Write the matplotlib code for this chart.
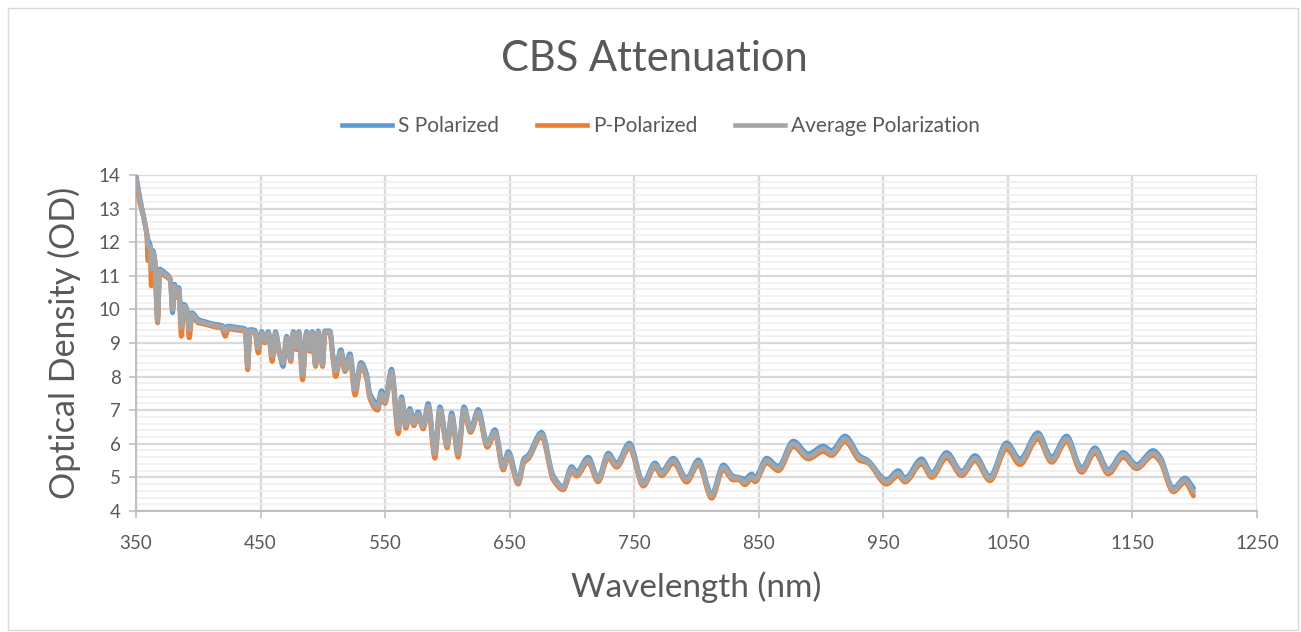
import matplotlib.pyplot as plt
import numpy as np
from matplotlib.path import Path
from matplotlib.patches import PathPatch, Rectangle
from matplotlib.lines import Line2D
from matplotlib.ticker import MultipleLocator

plt.rcParams['font.family'] = ['Lato', 'DejaVu Sans']

# readings from the chart: wavelength (nm), S, P and average optical density
wavelength = [350, 353, 358.8, 359.6, 361.5, 362.3, 363.5, 365, 367.4, 369, 373, 377.6,
              379.4, 381, 383, 384.5, 386.4, 388.5, 391, 392.8, 395, 400, 405, 413, 419,
              421.7, 424, 430, 437.7, 439.7, 441.5, 445.5, 448.2, 450.9, 453.5, 456.2,
              459.4, 462.1, 464.8, 468.2, 470.9, 474.4, 476.3, 479, 480.8, 483.8, 487,
              489.7, 491.5, 494.2, 496.3, 499.8, 501.7, 505.7, 508.4, 510.3, 514.5, 517.8,
              521.8, 525.8, 530.6, 535.1, 537.8, 544, 547.2, 549.9, 555.2, 560.6, 563.2,
              566.7, 569.9, 573.1, 576.6, 580.6, 584.6, 590, 594, 599.9, 603.4, 608.7,
              613.3, 618.6, 624.8, 632, 638.2, 644.9, 648.9, 656.9, 661.5, 664.9, 675.6,
              685, 693, 699.7, 703.7, 713.1, 721, 729.2, 735.9, 746.1, 757.3, 766.7, 772,
              781.4, 792.1, 801.5, 812.2, 821.5, 829.6, 834, 838.9, 844.3, 847, 856.3,
              865.7, 877.7, 889.8, 901.8, 908.5, 919.2, 931.2, 937, 952.6, 962, 967.4,
              980.7, 988.8, 1000.8, 1012.9, 1023.6, 1035.6, 1049, 1059.7, 1074, 1085.1,
              1097.1, 1109.2, 1119.9, 1130.6, 1142.6, 1153.3, 1166.7, 1172, 1182.8,
              1192.1, 1199]

avg_pol = [13.95, 13.3, 12.2, 11.9, 11.85, 11.2, 11.7, 11.5, 9.65, 11.15, 11.05, 10.88,
           10.0, 10.7, 10.4, 10.6, 9.45, 10.1, 9.95, 9.4, 9.85, 9.65, 9.6, 9.52, 9.48,
           9.35, 9.46, 9.43, 9.38, 8.3, 9.36, 9.34, 8.85, 9.3, 9.05, 9.3,
           8.6, 9.3, 8.75, 8.4, 9.15, 8.5, 9.3, 8.85, 9.3, 8.05, 9.3,
           8.8, 9.3, 8.35, 9.33, 8.35, 9.33, 9.33, 8.5, 8.15, 8.72, 8.2,
           8.6, 7.6, 8.35, 8.0, 7.42, 7.1, 7.5, 7.25, 8.15, 6.45, 7.32,
           6.55, 6.98, 6.6, 6.88, 6.5, 7.12, 5.7, 7.03, 5.95, 6.84, 5.7,
           7.03, 6.4, 6.94, 5.97, 6.35, 5.28, 5.7, 4.85, 5.5, 5.6, 6.28,
           5.0, 4.68, 5.25, 5.1, 5.52, 4.93, 5.65, 5.36, 5.94, 4.8, 5.36, 5.12,
           5.5, 4.93, 5.45, 4.45, 5.3, 4.98, 4.97, 4.85, 5.02, 4.93, 5.5,
           5.27, 6.0, 5.62, 5.85, 5.72, 6.15, 5.57, 5.48, 4.87, 5.12, 4.92,
           5.47, 5.07, 5.66, 5.12, 5.57, 4.97, 5.95, 5.47, 6.25, 5.52,
           6.15, 5.22, 5.8, 5.17, 5.67, 5.32, 5.72, 5.55, 4.63,
           4.92, 4.56]

s_pol = [14.0, 13.35, 12.25, 12.1, 11.9, 11.7, 11.75, 11.55, 9.8, 11.2, 11.1, 10.9,
         9.9, 10.75, 10.45, 10.65, 9.55, 10.15, 10.0, 9.5, 9.9, 9.7, 9.64, 9.56, 9.52,
         9.45, 9.5, 9.47, 9.42, 8.35, 9.4, 9.38, 8.95, 9.34, 9.1, 9.34,
         8.7, 9.34, 8.8, 8.3, 9.2, 8.6, 9.34, 8.9, 9.34, 8.2, 9.34,
         8.85, 9.34, 8.4, 9.36, 8.4, 9.36, 9.36, 8.55, 8.25, 8.8, 8.28,
         8.68, 7.7, 8.42, 8.08, 7.5, 7.2, 7.58, 7.3, 8.22, 6.55, 7.4,
         6.62, 7.05, 6.66, 6.95, 6.55, 7.2, 5.78, 7.1, 6.0, 6.92, 5.78,
         7.1, 6.46, 7.02, 6.03, 6.42, 5.35, 5.77, 4.9, 5.56, 5.66, 6.34,
         5.05, 4.72, 5.32, 5.16, 5.6, 4.98, 5.72, 5.42, 6.02, 4.85, 5.43, 5.18,
         5.57, 4.98, 5.52, 4.5, 5.37, 5.03, 5.0, 4.95, 5.1, 5.0, 5.57,
         5.33, 6.08, 5.7, 5.93, 5.8, 6.23, 5.63, 5.52, 4.93, 5.2, 4.98,
         5.55, 5.13, 5.74, 5.18, 5.65, 5.03, 6.03, 5.55, 6.33, 5.6,
         6.23, 5.28, 5.88, 5.23, 5.74, 5.38, 5.8, 5.62, 4.68,
         4.98, 4.68]

p_pol = [13.85, 13.2, 12.15, 11.45, 11.8, 10.7, 11.6, 11.45, 9.6, 11.1, 11.0, 10.85,
         10.0, 10.65, 10.35, 10.55, 9.2, 10.05, 9.9, 9.15, 9.8, 9.6, 9.56, 9.48, 9.44,
         9.2, 9.42, 9.39, 9.34, 8.2, 9.32, 9.3, 8.7, 9.26, 9.0, 9.26,
         8.45, 9.26, 8.7, 8.45, 9.1, 8.45, 9.26, 8.8, 9.26, 7.9, 9.26,
         8.75, 9.26, 8.3, 9.3, 8.3, 9.3, 9.3, 8.45, 8.0, 8.65, 8.15,
         8.55, 7.45, 8.3, 7.95, 7.35, 7.0, 7.45, 7.2, 8.1, 6.3, 7.25,
         6.46, 6.92, 6.54, 6.82, 6.44, 7.06, 5.57, 6.97, 5.88, 6.78, 5.6,
         6.97, 6.34, 6.88, 5.9, 6.28, 5.22, 5.63, 4.8, 5.44, 5.55, 6.22,
         4.93, 4.63, 5.18, 5.04, 5.45, 4.87, 5.58, 5.3, 5.88, 4.74, 5.3, 5.05,
         5.43, 4.86, 5.38, 4.38, 5.23, 4.92, 4.93, 4.78, 4.96, 4.87, 5.43,
         5.2, 5.92, 5.55, 5.77, 5.65, 6.07, 5.5, 5.44, 4.8, 5.05, 4.86,
         5.4, 5.0, 5.58, 5.05, 5.5, 4.9, 5.85, 5.38, 6.15, 5.45,
         6.07, 5.15, 5.73, 5.1, 5.6, 5.26, 5.65, 5.48, 4.57,
         4.85, 4.45]

series = [('S Polarized', s_pol, '#5B9BD5'),
          ('P-Polarized', p_pol, '#ED7D31'),
          ('Average Polarization', avg_pol, '#A5A5A5')]

text_col = '#595959'


def smooth_line(ax, xs, ys, color, lw, z):
    # smoothed line like Excel's, drawn as bezier segments through the read points
    x = np.asarray(xs, float)
    y = np.asarray(ys, float)
    h = np.diff(x)
    d = np.diff(y) / h
    m = np.zeros_like(y)
    m[0], m[-1] = d[0], d[-1]
    for k in range(1, len(x) - 1):
        if d[k - 1] * d[k] > 0:
            w1 = 2 * h[k] + h[k - 1]
            w2 = h[k] + 2 * h[k - 1]
            m[k] = (w1 + w2) / (w1 / d[k - 1] + w2 / d[k])
    verts = [(x[0], y[0])]
    codes = [Path.MOVETO]
    for k in range(len(x) - 1):
        verts += [(x[k] + h[k] / 3, y[k] + m[k] * h[k] / 3),
                  (x[k + 1] - h[k] / 3, y[k + 1] - m[k + 1] * h[k] / 3),
                  (x[k + 1], y[k + 1])]
        codes += [Path.CURVE4] * 3
    ax.add_patch(PathPatch(Path(verts, codes), fill=False, edgecolor=color, lw=lw,
                           capstyle='round', joinstyle='round', zorder=z))


fig = plt.figure(figsize=(13.01, 6.32), dpi=100)
fig.patches.append(Rectangle((0.006, 0.003), 0.992, 0.984, transform=fig.transFigure,
                             fill=False, edgecolor='#D9D9D9', lw=1))
ax = fig.add_axes([0.1045, 0.1915, 0.8617, 0.5316])

for i, (name, vals, col) in enumerate(series):
    smooth_line(ax, wavelength, vals, col, 3.5, 3 + i)

ax.set_xlim(350, 1250)
ax.set_ylim(4, 14)
ax.set_xticks(np.arange(350, 1251, 100))
ax.set_yticks(np.arange(4, 15, 1))
ax.yaxis.set_minor_locator(MultipleLocator(0.2))
ax.grid(which='major', color='#D9D9D9', lw=1.6, zorder=1)
ax.grid(which='minor', axis='y', color='#EFEFEF', lw=1.2, zorder=0)
ax.set_axisbelow(True)
for s in ['top', 'right']:
    ax.spines[s].set_visible(False)
for s in ['left', 'bottom']:
    ax.spines[s].set_color('#BFBFBF')
    ax.spines[s].set_linewidth(1.5)
ax.tick_params(which='major', length=5, color='#BFBFBF', width=1.2,
               labelsize=13.5, labelcolor=text_col)
ax.tick_params(axis='x', pad=12)
ax.tick_params(axis='y', pad=6)
ax.tick_params(which='minor', length=0)

ax.set_xlabel('Wavelength (nm)', fontsize=24, color=text_col, labelpad=14)
ax.set_ylabel('Optical Density (OD)', fontsize=24.5, color=text_col, labelpad=13)
fig.text(0.503, 0.907, 'CBS Attenuation', fontsize=30, color=text_col,
         ha='center', va='center')

handles = [Line2D([], [], color=c, lw=3.3) for _, _, c in series]
fig.legend(handles, [n for n, _, _ in series], loc='center', bbox_to_anchor=(0.508, 0.80),
           ncol=3, frameon=False, fontsize=15, labelcolor=text_col,
           handlelength=2.4, handletextpad=0.3, columnspacing=1.8)

fig.savefig('out.png', dpi=100)
